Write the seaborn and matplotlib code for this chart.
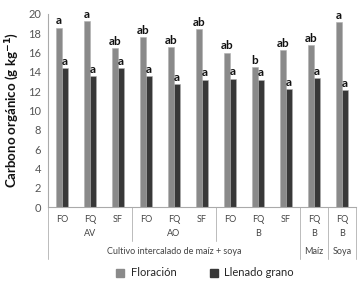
import matplotlib
matplotlib.use("Agg")
import matplotlib.pyplot as plt
import matplotlib.transforms as mtransforms
from matplotlib.lines import Line2D
import seaborn as sns
import pandas as pd

# ---- data ----
cat_ids = ["AV-FO", "AV-FQ", "AV-SF", "AO-FO", "AO-FQ", "AO-SF",
           "B-FO", "B-FQ", "B-SF", "Maiz-FQ", "Soya-FQ"]
row1_labels = ["FO", "FQ", "SF", "FO", "FQ", "SF", "FO", "FQ", "SF", "FQ", "FQ"]
row2_labels = ["AV", "AO", "B", "B", "B"]
row2_spans = [(0, 2), (3, 5), (6, 8), (9, 9), (10, 10)]
row3_labels = ["Cultivo intercalado de maíz + soya", "Maíz", "Soya"]
row3_spans = [(0, 8), (9, 9), (10, 10)]
floracion = [18.6, 19.3, 16.5, 17.6, 16.6, 18.4, 16.0, 14.5, 16.3, 16.8, 19.2]
llenado = [14.4, 13.6, 14.4, 13.6, 12.7, 13.2, 13.3, 13.2, 12.2, 13.4, 12.1]
letters_flor = ["a", "a", "ab", "ab", "ab", "ab", "ab", "b", "ab", "ab", "a"]
letters_llen = ["a"] * 11
series_names = ["Floración", "Llenado grano"]
yticks = [0, 2, 4, 6, 8, 10, 12, 14, 16, 18, 20]

df = pd.DataFrame({
    "cat": cat_ids * 2,
    "val": floracion + llenado,
    "serie": [series_names[0]] * 11 + [series_names[1]] * 11,
})

sns.set_style("white")
plt.rcParams["font.family"] = ["Lato", "DejaVu Sans"]

fig = plt.figure(figsize=(3.59, 2.81), dpi=100)
ax = fig.add_axes([48 / 359, 1 - 207 / 281, (356 - 48) / 359, (207 - 14) / 281])

palette = {series_names[0]: "#8a8a8a", series_names[1]: "#383838"}
sns.barplot(data=df, x="cat", y="val", hue="serie", order=cat_ids,
            hue_order=series_names, palette=palette, width=0.46,
            ax=ax, legend=False, saturation=1, edgecolor="#b0b0b0", linewidth=0.4)

ax.set_ylim(0, 20)
ax.set_xlim(-0.5, len(cat_ids) - 0.5)
ax.set_yticks(yticks)
ax.set_yticklabels([str(t) for t in yticks], fontsize=8, color="#555555")
ax.tick_params(axis="y", length=3, width=0.6, color="#999999", pad=2)
ax.set_xticks(range(len(cat_ids)))
ax.set_xticklabels(row1_labels, fontsize=6.5, color="#444444")
ax.tick_params(axis="x", length=0, pad=6)
ax.set_xlabel("")
ax.set_ylabel("Carbono orgánico (g kg$^{\\mathbf{-1}}$)", fontsize=9.5, fontweight="bold",
              color="#111111", labelpad=5)
for s in ["top", "right"]:
    ax.spines[s].set_visible(False)
for s in ["left", "bottom"]:
    ax.spines[s].set_color("#aaaaaa")
    ax.spines[s].set_linewidth(0.8)

# letters above bars
for cont, labs in zip(ax.containers, [letters_flor, letters_llen]):
    for bar, lab in zip(cont, labs):
        ax.text(bar.get_x() + bar.get_width() / 2, bar.get_height() + 0.12, lab,
                ha="center", va="bottom", fontsize=8.5, fontweight="bold", color="#111111")

# hierarchical category labels
trans = mtransforms.blended_transform_factory(ax.transData, ax.transAxes)
px = 1 / (207 - 14)  # one pixel in axes fraction (vertical)
y_row2 = -(234 - 207) * px
y_row3 = -(251 - 207) * px
for lab, (a, b) in zip(row2_labels, row2_spans):
    ax.text((a + b) / 2, y_row2, lab, transform=trans, ha="center", va="center",
            fontsize=6.5, color="#444444")
for lab, (a, b) in zip(row3_labels, row3_spans):
    ax.text((a + b) / 2, y_row3, lab, transform=trans, ha="center", va="center",
            fontsize=6.5, color="#444444")

# separator lines
y_short = -(241 - 207) * px
y_long = -(259 - 207) * px
for xb in [2.5, 5.5]:
    ax.add_line(Line2D([xb, xb], [0, y_short], transform=trans, color="#bbbbbb",
                       lw=0.7, clip_on=False))
for xb in [-0.5, 8.5, 9.5, 10.5]:
    ax.add_line(Line2D([xb, xb], [0, y_long], transform=trans, color="#bbbbbb",
                       lw=0.7, clip_on=False))

# legend
handles = [plt.Rectangle((0, 0), 1, 1, color=palette[n]) for n in series_names]
fig.legend(handles, series_names, loc="center", bbox_to_anchor=(205 / 359, 1 - 273 / 281),
           ncol=2, frameon=False, fontsize=8, handlelength=0.7, handleheight=0.7,
           columnspacing=3.0, handletextpad=0.6)

fig.savefig("out.png", dpi=100)
